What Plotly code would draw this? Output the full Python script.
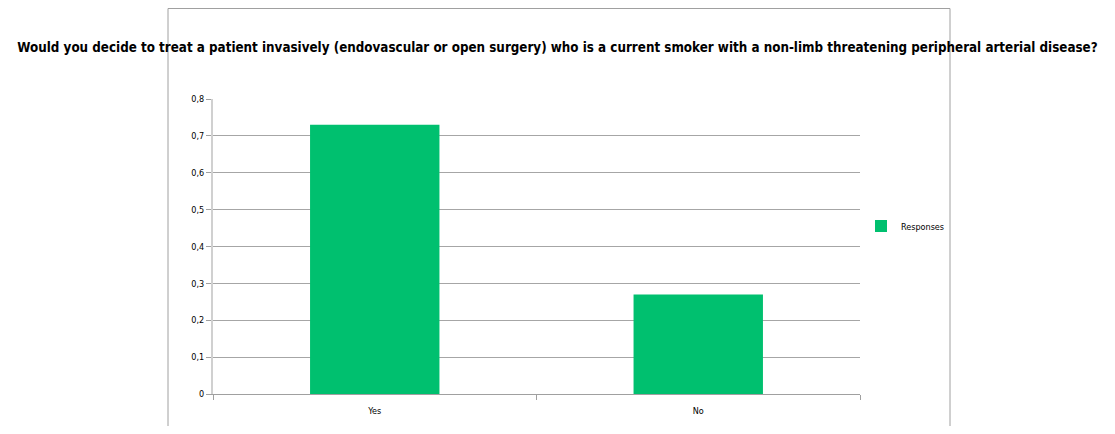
import plotly.graph_objects as go

categories = ["Yes", "No"]
values = [0.73, 0.27]
series_name = "Responses"
title_text = ("Would you decide to treat a patient invasively (endovascular or open surgery) "
              "who is a current smoker with a non-limb threatening peripheral arterial disease?")
tick_vals = [0, 0.1, 0.2, 0.3, 0.4, 0.5, 0.6, 0.7, 0.8]
tick_text = ["0", "0,1", "0,2", "0,3", "0,4", "0,5", "0,6", "0,7", "0,8"]

FONT = "DejaVu Sans Condensed, Liberation Sans Narrow, sans-serif"
OFF = 8  # page body margin
W, H = 1099, 418
L, R, T, B = 205, 247, 91, 32
pw, ph = W - L - R, H - T - B


def px_x(x):  # page pixel -> paper
    return (x - OFF - L) / pw


def px_y(y):
    return (H - B - (y - OFF)) / ph


fig = go.Figure()
fig.add_trace(go.Bar(x=categories, y=values, name=series_name,
                     marker=dict(color="#00c06f", line=dict(width=0)),
                     showlegend=True))

fig.update_layout(
    width=W, height=H,
    margin=dict(l=L, r=R, t=T, b=B, autoexpand=False),
    paper_bgcolor="white", plot_bgcolor="white",
    bargap=0.6,
    font=dict(family=FONT, size=9, color="#000000"),
    title=dict(text="<b>" + title_text + "</b>", x=0.5, xref="container", xanchor="center",
               y=1 - (47 - OFF) / H, yref="container", yanchor="middle",
               font=dict(family=FONT, size=13.3, color="#000000")),
    showlegend=True,
    legend=dict(x=px_x(861), y=px_y(226), xanchor="left", yanchor="middle",
                xref="paper", yref="paper", font=dict(family=FONT, size=9),
                itemwidth=30, bgcolor="rgba(0,0,0,0)"),
    xaxis=dict(showline=True, linecolor="#a0a0a0", linewidth=1,
               ticks="outside", tickson="boundaries", ticklen=5, tickcolor="#a0a0a0",
               ticklabelstandoff=8,
               showgrid=False, tickfont=dict(size=9)),
    yaxis=dict(range=[0, 0.8], tickvals=tick_vals, ticktext=tick_text,
               showline=True, linecolor="#d0d0d0", linewidth=2,
               ticks="outside", ticklen=5, tickcolor="#a0a0a0",
               showgrid=True, gridcolor="#a6a6a6", gridwidth=1,
               zeroline=False, tickfont=dict(size=9)),
    shapes=[dict(type="rect", xref="paper", yref="paper",
                 x0=px_x(168), x1=px_x(950), y0=px_y(460), y1=px_y(8.5),
                 line=dict(color="#a0a0a0", width=1), fillcolor="rgba(0,0,0,0)",
                 layer="below")],
)

fig.write_html("out.html")
